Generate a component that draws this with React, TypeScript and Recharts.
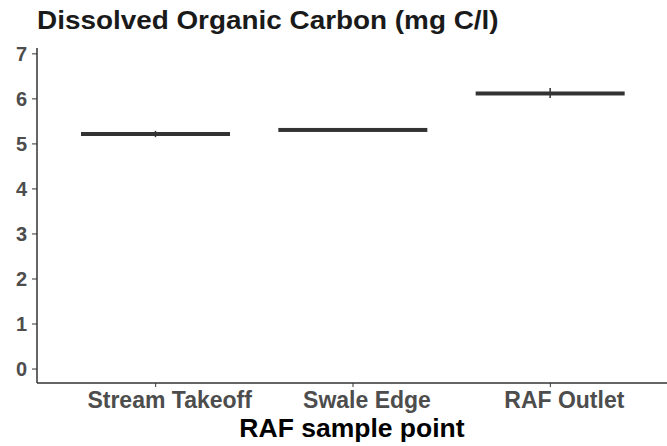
import { ComposedChart, Bar, ErrorBar, XAxis, YAxis } from 'recharts';

const categories = ['Stream Takeoff', 'Swale Edge', 'RAF Outlet'];
const docValues = [5.22, 5.31, 6.12];
const spread = [
  [0.07, 0.07],
  [0, 0],
  [0.1, 0.12],
];
const yTicks = [0, 1, 2, 3, 4, 5, 6, 7];

const data = categories.map((site, i) => ({
  site,
  doc: docValues[i],
  err: spread[i],
}));

const FONT = '"Liberation Sans", Arial, sans-serif';

// flat box: median line drawn at the bar top
const MedianLine = (props: any) => {
  const { x, y, width } = props;
  return <rect x={x} y={y - 2} width={width} height={4} fill="#333333" />;
};

const SiteTick = (props: any) => {
  const { x, y, payload } = props;
  return (
    <text x={x + 14} y={y + 19} textAnchor="middle" fill="#4d4d4d" fontSize={23} fontWeight="bold" fontFamily={FONT}>
      {payload.value}
    </text>
  );
};

const App = () => {
  return (
    <div style={{ position: 'absolute', left: 0, top: 0, width: 667, height: 446, background: '#fff', fontFamily: FONT }}>
      <div
        style={{
          position: 'absolute',
          left: 37,
          top: 8,
          fontSize: 25,
          lineHeight: '25px',
          fontWeight: 'bold',
          color: '#1a1a1a',
          whiteSpace: 'nowrap',
          transform: 'scaleX(1.115)',
          transformOrigin: 'left top',
        }}
      >
        Dissolved Organic Carbon (mg C/l)
      </div>
      <ComposedChart width={667} height={446} data={data} margin={{ top: 48, right: 0, left: 0, bottom: 0 }}>
        <XAxis
          dataKey="site"
          height={63}
          padding={{ left: 20, right: 18 }}
          axisLine={{ stroke: '#333333', strokeWidth: 1.5 }}
          tickLine={{ stroke: '#333333' }}
          tickSize={4}
          tick={<SiteTick />}
          label={{ value: 'RAF sample point', position: 'insideBottom', offset: 9, fill: '#000', fontSize: 26.5, fontWeight: 'bold', fontFamily: FONT }}
        />
        <YAxis
          width={37}
          domain={[-0.31, 7.13]}
          ticks={yTicks}
          allowDataOverflow
          axisLine={{ stroke: '#333333', strokeWidth: 1.5 }}
          tickLine={{ stroke: '#333333' }}
          tickSize={5}
          tickMargin={5}
          tick={{ fill: '#4d4d4d', fontSize: 20, fontWeight: 'bold', fontFamily: FONT }}
        />
        <Bar dataKey="doc" barSize={149} shape={<MedianLine />} isAnimationActive={false}>
          <ErrorBar dataKey="err" width={0} stroke="#333333" strokeWidth={1.5} direction="y" />
        </Bar>
      </ComposedChart>
    </div>
  );
};

export default App;
